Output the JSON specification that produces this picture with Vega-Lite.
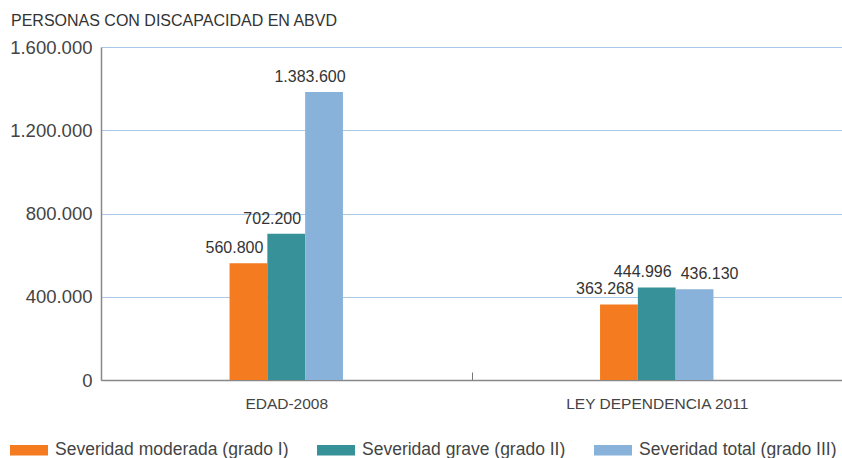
{
  "$schema": "https://vega.github.io/schema/vega-lite/v6.json",
  "autosize": "none",
  "width": 741,
  "height": 333,
  "padding": {"left": 101, "top": 47, "right": 0, "bottom": 78},
  "background": "white",
  "title": {
    "text": "PERSONAS CON DISCAPACIDAD EN ABVD",
    "anchor": "start",
    "frame": "group",
    "dx": -90,
    "offset": 9,
    "fontSize": 16,
    "font": "Liberation Sans",
    "fontWeight": "normal",
    "color": "#333333"
  },
  "data": {
    "values": [
      {"fuente": "EDAD-2008", "severidad": "Severidad moderada (grado I)", "orden": 1, "valor": 560800},
      {"fuente": "EDAD-2008", "severidad": "Severidad grave (grado II)", "orden": 2, "valor": 702200},
      {"fuente": "EDAD-2008", "severidad": "Severidad total (grado III)", "orden": 3, "valor": 1383600},
      {"fuente": "LEY DEPENDENCIA 2011", "severidad": "Severidad moderada (grado I)", "orden": 1, "valor": 363268},
      {"fuente": "LEY DEPENDENCIA 2011", "severidad": "Severidad grave (grado II)", "orden": 2, "valor": 444996},
      {"fuente": "LEY DEPENDENCIA 2011", "severidad": "Severidad total (grado III)", "orden": 3, "valor": 436130}
    ]
  },
  "encoding": {
    "x": {
      "field": "fuente",
      "type": "nominal",
      "scale": {"paddingInner": 0, "paddingOuter": 0},
      "axis": {
        "title": null,
        "labelAngle": 0,
        "labelFontSize": 15.5,
        "labelFont": "Liberation Sans",
        "labelColor": "#444444",
        "labelPadding": 24,
        "labelLimit": 400,
        "domainColor": "#888888",
        "domainWidth": 1.5,
        "tickColor": "#777777",
        "tickSize": -8,
        "tickBand": "extent",
        "grid": false
      }
    },
    "xOffset": {
      "field": "severidad",
      "type": "nominal",
      "scale": {
        "domain": ["_a", "_b", "_c", "Severidad moderada (grado I)", "Severidad grave (grado II)", "Severidad total (grado III)", "_d", "_e", "_f"],
        "paddingInner": 0,
        "paddingOuter": 0.4
      }
    },
    "y": {
      "field": "valor",
      "type": "quantitative",
      "scale": {"domain": [0, 1600000]},
      "axis": {
        "title": null,
        "values": [0, 400000, 800000, 1200000, 1600000],
        "format": ",d",
        "labelFontSize": 18.5,
        "labelFont": "Liberation Sans",
        "labelColor": "#444444",
        "labelPadding": 9,
        "ticks": false,
        "domainColor": "#888888",
        "domainWidth": 1.5,
        "gridColor": "#a9c9ea",
        "gridWidth": 1
      }
    }
  },
  "layer": [
    {
      "mark": {"type": "bar"},
      "encoding": {
        "color": {
          "field": "severidad",
          "type": "nominal",
          "sort": ["Severidad moderada (grado I)", "Severidad grave (grado II)", "Severidad total (grado III)"],
          "scale": {"range": ["#f47b20", "#369298", "#88b2d9"]},
          "legend": {
            "title": null,
            "orient": "none",
            "legendX": -91,
            "legendY": 384,
            "direction": "horizontal",
            "padding": 0,
            "columnPadding": 28,
            "symbolType": "M-1,-0.27H1V0.27H-1Z",
            "symbolSize": 1444,
            "symbolStrokeWidth": 0,
            "symbolOpacity": 1,
            "labelOffset": 7,
            "labelFontSize": 17.5,
            "labelFont": "Liberation Sans",
            "labelColor": "#444444",
            "labelLimit": 400
          }
        }
      }
    },
    {
      "transform": [{"filter": "!(datum.fuente === 'LEY DEPENDENCIA 2011' && datum.orden === 3)"}],
      "mark": {"type": "text", "baseline": "bottom", "dy": -7, "dx": -14, "fontSize": 16, "font": "Liberation Sans", "color": "#333333"},
      "encoding": {"text": {"field": "valor", "type": "quantitative", "format": ",d"}}
    },
    {
      "transform": [{"filter": "datum.fuente === 'LEY DEPENDENCIA 2011' && datum.orden === 3"}],
      "mark": {"type": "text", "baseline": "bottom", "dy": -7, "dx": 15, "fontSize": 16, "font": "Liberation Sans", "color": "#333333"},
      "encoding": {"text": {"field": "valor", "type": "quantitative", "format": ",d"}}
    }
  ],
  "config": {
    "view": {"stroke": null},
    "locale": {
      "number": {"decimal": ",", "thousands": ".", "grouping": [3], "currency": ["", " €"]}
    }
  }
}
